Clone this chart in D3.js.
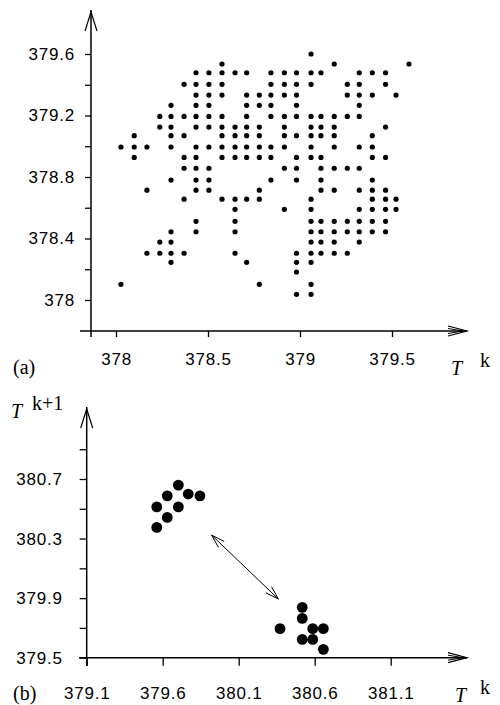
<!DOCTYPE html>
<html lang="en">
<head>
<meta charset="UTF-8">
<title>T(k) / T(k+1) scatter</title>
<script src="https://d3js.org/d3.v7.min.js"></script>
<style>
  body { margin: 0; background: #fff; }
  svg { display: block; }
  .tick text { font-family: "Liberation Sans", Arial, sans-serif; font-size: 17px; letter-spacing: 0.8px; fill: #000; }
  .tick line { stroke: #000; stroke-width: 1.3; }
  .lbl { font-family: "Liberation Serif", "Times New Roman", serif; fill: #000; }
</style>
</head>
<body>
<div id="chart"></div>
<script>
// panel (a): each row is one T(k+1) level, with the T(k) values found on it
const aRowY = [379.600, 379.535, 379.478, 379.403, 379.333, 379.266, 379.194, 379.125,
               379.069, 378.995, 378.927, 378.857, 378.780, 378.714, 378.656, 378.590,
               378.512, 378.444, 378.377, 378.304, 378.245, 378.182, 378.102, 378.037];
const aRowX = [
  [379.060],
  [378.576, 379.186, 379.592],
  [378.435, 378.505, 378.576, 378.647, 378.710, 378.842, 378.915, 378.981, 379.060, 379.114, 379.322, 379.393, 379.465],
  [378.370, 378.435, 378.505, 378.576, 378.842, 378.915, 378.981, 379.060, 379.257, 379.322, 379.465],
  [378.435, 378.505, 378.576, 378.710, 378.779, 378.842, 378.915, 378.981, 379.257, 379.322, 379.393, 379.522],
  [378.299, 378.435, 378.505, 378.710, 378.779, 378.842, 378.981, 379.322],
  [378.238, 378.299, 378.370, 378.435, 378.505, 378.576, 378.710, 378.842, 378.915, 378.981, 379.060, 379.114, 379.186, 379.257, 379.322],
  [378.238, 378.299, 378.435, 378.505, 378.576, 378.647, 378.710, 378.779, 378.915, 379.060, 379.114, 379.186, 379.465],
  [378.099, 378.299, 378.370, 378.576, 378.647, 378.710, 378.779, 378.915, 378.981, 379.060, 379.114, 379.186, 379.393],
  [378.027, 378.099, 378.168, 378.299, 378.435, 378.505, 378.576, 378.647, 378.710, 378.779, 378.842, 378.915, 379.060, 379.186, 379.322, 379.393],
  [378.099, 378.370, 378.435, 378.576, 378.647, 378.710, 378.779, 378.842, 378.981, 379.060, 379.114, 379.393, 379.465],
  [378.370, 378.435, 378.505, 378.915, 378.981, 379.114, 379.186, 379.257, 379.322],
  [378.299, 378.435, 378.505, 378.842, 378.981, 379.114, 379.393],
  [378.168, 378.435, 378.505, 378.779, 379.114, 379.186, 379.322, 379.393, 379.465],
  [378.370, 378.576, 378.647, 378.710, 378.779, 379.060, 379.393, 379.465, 379.522],
  [378.647, 378.915, 379.060, 379.322, 379.393, 379.465, 379.522],
  [378.435, 378.647, 379.060, 379.114, 379.186, 379.257, 379.322, 379.393, 379.465],
  [378.299, 378.435, 378.647, 379.060, 379.114, 379.186, 379.257, 379.322, 379.393, 379.465],
  [378.238, 378.299, 379.060, 379.114, 379.186, 379.322],
  [378.168, 378.238, 378.299, 378.370, 378.647, 378.981, 379.060, 379.114, 379.186, 379.257],
  [378.299, 378.710, 378.981, 379.060],
  [378.981],
  [378.027, 378.779, 379.060],
  [378.981, 379.060]
];
const aTicksX = [378, 378.5, 379, 379.5];
const aTicksY = [378, 378.4, 378.8, 379.2, 379.6];
const aMinorY = [378.2, 378.6, 379.0, 379.4];

// panel (b): two clusters of points and the arrow between them
const bPointsX = [379.561, 379.630, 379.703, 379.768, 379.845, 379.703, 379.630, 379.561,
                  380.372, 380.518, 380.518, 380.587, 380.657, 380.518, 380.587, 380.657];
const bPointsY = [380.513, 380.587, 380.659, 380.599, 380.587, 380.513, 380.442, 380.375,
                  379.695, 379.838, 379.764, 379.695, 379.695, 379.623, 379.623, 379.556];
const bArrowX = [379.922, 380.361];
const bArrowY = [380.323, 379.894];
const bTicksX = [379.1, 379.6, 380.1, 380.6, 381.1];
const bTicksY = [379.5, 379.9, 380.3, 380.7];
const bMinorY = [379.7, 380.1, 380.5, 380.9];

const svg = d3.select("#chart").append("svg")
    .attr("width", 500)
    .attr("height", 705);

svg.append("rect").attr("width", 500).attr("height", 705).attr("fill", "#fff");

const fmt = d => String(+d.toFixed(1));

// axis lines with open arrow heads
function axisLines(ax, ay, yTop, xLeft, xRight, yBottom) {
    const g = svg.append("g")
        .attr("fill", "none")
        .attr("stroke", "#000")
        .attr("stroke-width", 1.5);
    g.append("line").attr("x1", ax).attr("x2", ax).attr("y1", yTop).attr("y2", yBottom);
    g.append("line").attr("x1", xLeft).attr("x2", xRight).attr("y1", ay).attr("y2", ay);
    g.append("path").attr("stroke-width", 1.2)
        .attr("d", `M${ax - 6},${yTop + 21} L${ax},${yTop + 2} L${ax + 6},${yTop + 21}`);
    g.append("path").attr("stroke-width", 1.2)
        .attr("d", `M${xRight - 19},${ay - 5} L${xRight},${ay} L${xRight - 19},${ay + 5}`);
    g.append("path").attr("stroke-width", 1)
        .attr("d", `M${xRight - 19},${ay - 2.5} L${xRight - 4},${ay} L${xRight - 19},${ay + 2.5}`);
}

function noDomain(g) { g.select(".domain").remove(); }

// ---------- panel (a) ----------
const xA = d3.scaleLinear().domain([378, 379.5]).range([116, 392]);
const yA = d3.scaleLinear().domain([378, 379.6]).range([300, 54]);

axisLines(91, 331, 10, 80, 467, 337);

svg.append("g").attr("transform", "translate(91,0)")
    .call(d3.axisLeft(yA).tickValues(aTicksY).tickSize(6).tickPadding(10).tickFormat(fmt))
    .call(noDomain);
svg.append("g").attr("transform", "translate(91,0)")
    .call(d3.axisLeft(yA).tickValues(aMinorY).tickSize(6).tickFormat(""))
    .call(noDomain);
svg.append("g").attr("transform", "translate(0,331)")
    .call(d3.axisBottom(xA).tickValues(aTicksX).tickSize(6).tickPadding(16).tickFormat(fmt))
    .call(noDomain);

const aPoints = aRowY.flatMap((y, i) => aRowX[i].map(x => ({x, y})));
svg.append("g").selectAll("circle")
    .data(aPoints)
    .join("circle")
    .attr("cx", d => xA(d.x))
    .attr("cy", d => yA(d.y))
    .attr("r", 2.6)
    .attr("fill", "#000");

svg.append("text").attr("class", "lbl").attr("x", 13).attr("y", 374)
    .attr("font-size", 20).text("(a)");
svg.append("text").attr("class", "lbl").attr("x", 451).attr("y", 375)
    .attr("font-size", 20).attr("font-style", "italic").text("T");
svg.append("text").attr("class", "lbl").attr("x", 480).attr("y", 367)
    .attr("font-size", 20).text("k");

// ---------- panel (b) ----------
const xB = d3.scaleLinear().domain([379.1, 381.1]).range([86.7, 390.7]);
const yB = d3.scaleLinear().domain([379.5, 380.7]).range([657.7, 479]);

axisLines(86.7, 657.7, 407, 79, 467, 666);

svg.append("g").attr("transform", "translate(86.7,0)")
    .call(d3.axisLeft(yB).tickValues(bTicksY).tickSize(7).tickPadding(17).tickFormat(fmt))
    .call(noDomain);
svg.append("g").attr("transform", "translate(86.7,0)")
    .call(d3.axisLeft(yB).tickValues(bMinorY).tickSize(7).tickFormat(""))
    .call(noDomain);
svg.append("g").attr("transform", "translate(0,657.7)")
    .call(d3.axisBottom(xB).tickValues(bTicksX).tickSize(8).tickPadding(21).tickFormat(fmt))
    .call(noDomain);

svg.append("g").selectAll("circle")
    .data(bPointsX.map((x, i) => ({x, y: bPointsY[i]})))
    .join("circle")
    .attr("cx", d => xB(d.x))
    .attr("cy", d => yB(d.y))
    .attr("r", 5.4)
    .attr("fill", "#000");

// double headed arrow
const p0 = [xB(bArrowX[0]), yB(bArrowY[0])];
const p1 = [xB(bArrowX[1]), yB(bArrowY[1])];
const arrow = svg.append("g").attr("fill", "none").attr("stroke", "#000").attr("stroke-width", 1);
arrow.append("line").attr("x1", p0[0]).attr("y1", p0[1]).attr("x2", p1[0]).attr("y2", p1[1]);
function head(tip, from) {
    const a = Math.atan2(from[1] - tip[1], from[0] - tip[0]);
    const len = 14, spread = 0.3;
    const l = [tip[0] + len * Math.cos(a - spread), tip[1] + len * Math.sin(a - spread)];
    const r = [tip[0] + len * Math.cos(a + spread), tip[1] + len * Math.sin(a + spread)];
    arrow.append("path").attr("d", `M${l[0]},${l[1]} L${tip[0]},${tip[1]} L${r[0]},${r[1]}`);
}
head(p0, p1);
head(p1, p0);

svg.append("text").attr("class", "lbl").attr("x", 11).attr("y", 418)
    .attr("font-size", 20).attr("font-style", "italic").text("T");
svg.append("text").attr("class", "lbl").attr("x", 32).attr("y", 410)
    .attr("font-size", 20).text("k+1");
svg.append("text").attr("class", "lbl").attr("x", 13).attr("y", 700)
    .attr("font-size", 20).text("(b)");
svg.append("text").attr("class", "lbl").attr("x", 455).attr("y", 702)
    .attr("font-size", 20).attr("font-style", "italic").text("T");
svg.append("text").attr("class", "lbl").attr("x", 480).attr("y", 694)
    .attr("font-size", 20).text("k");
</script>
</body>
</html>
